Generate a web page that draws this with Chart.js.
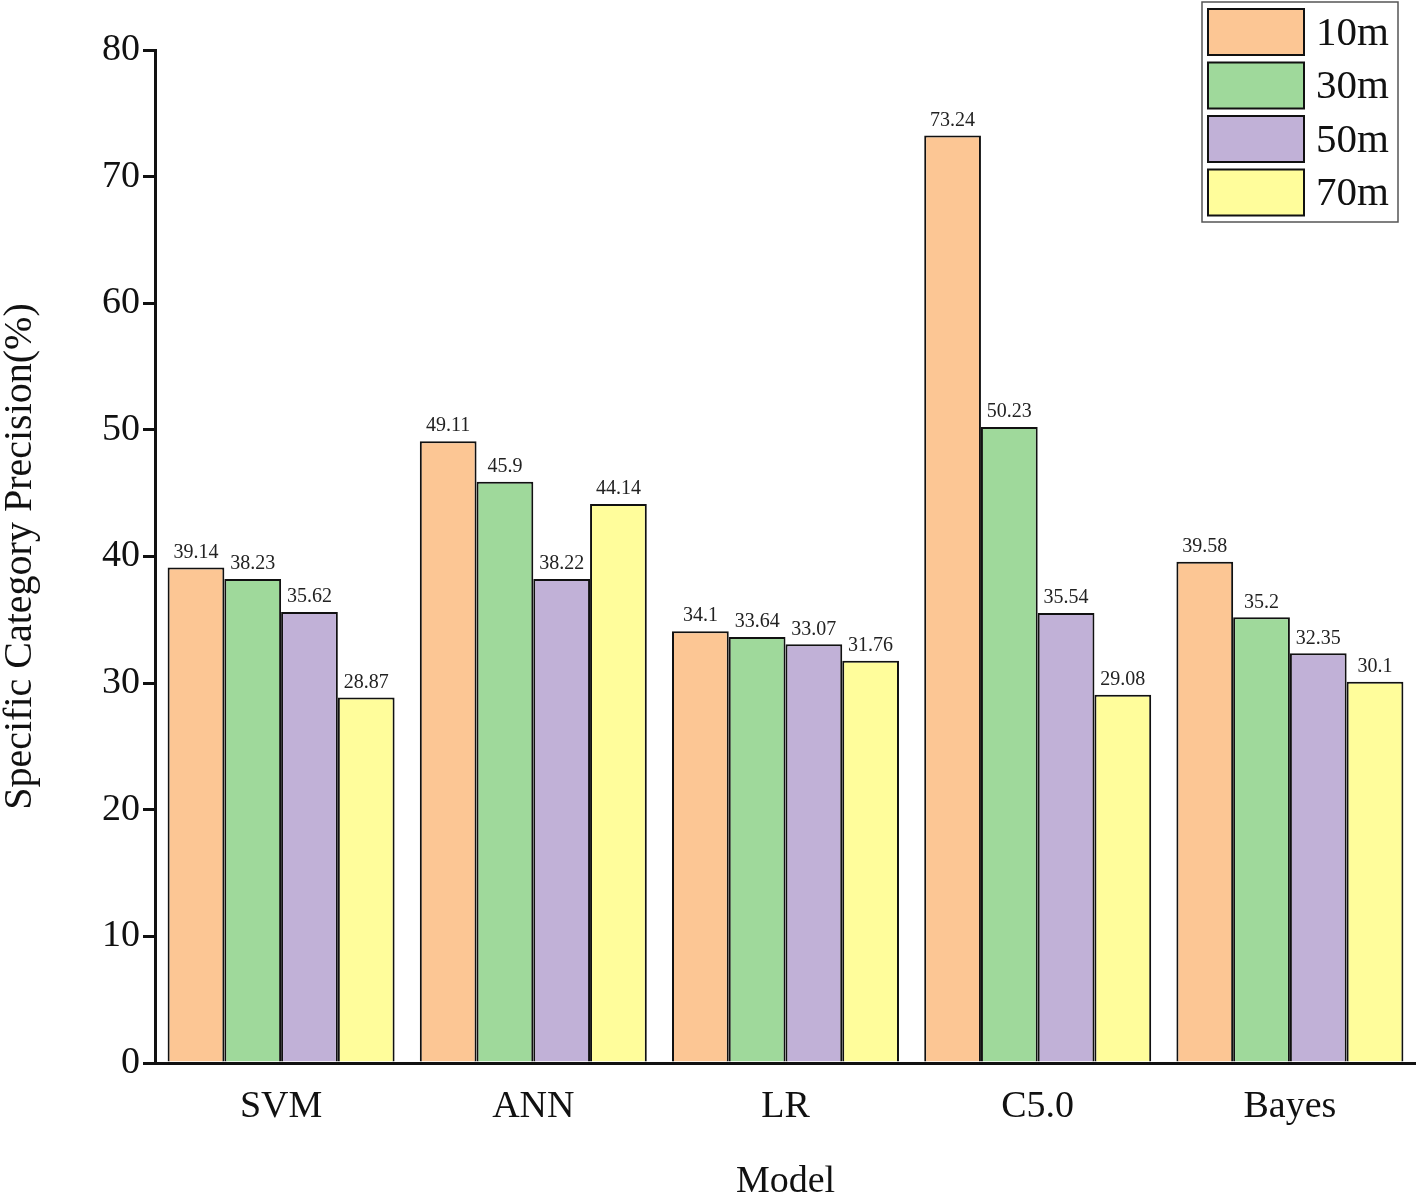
<!DOCTYPE html>
<html>
<head>
<meta charset="utf-8">
<script src="https://cdn.jsdelivr.net/npm/chart.js@4"></script>
<style>
  html, body { margin: 0; padding: 0; background: #fff; }
  #wrap { width: 1416px; height: 1195px; position: relative; }
</style>
</head>
<body>
<div id="wrap"><canvas id="chart"></canvas></div>
<script>
const models = ['SVM', 'ANN', 'LR', 'C5.0', 'Bayes'];
const series10m = [39.14, 49.11, 34.1, 73.24, 39.58];
const series30m = [38.23, 45.9, 33.64, 50.23, 35.2];
const series50m = [35.62, 38.22, 33.07, 35.54, 32.35];
const series70m = [28.87, 44.14, 31.76, 29.08, 30.1];
const seriesNames = ['10m', '30m', '50m', '70m'];
const seriesColors = ['#FCC694', '#9FD99B', '#C1B1D7', '#FFFD9B'];

const serif = '"Liberation Serif", "DejaVu Serif", serif';

// value labels above each bar
const barLabels = {
    id: 'barLabels',
    afterDatasetsDraw(chart) {
        const ctx = chart.ctx;
        ctx.save();
        ctx.font = '20px ' + serif;
        ctx.fillStyle = '#222';
        ctx.textAlign = 'center';
        ctx.textBaseline = 'bottom';
        chart.data.datasets.forEach((ds, i) => {
            chart.getDatasetMeta(i).data.forEach((bar, j) => {
                ctx.fillText(String(ds.data[j]), bar.x, bar.y - 5);
            });
        });
        ctx.restore();
    }
};

// boxed legend in the top right corner
const boxLegend = {
    id: 'boxLegend',
    afterDraw(chart) {
        const ctx = chart.ctx;
        const x0 = 1202, y0 = 2, w = 196, h = 220;
        ctx.save();
        ctx.strokeStyle = '#555';
        ctx.lineWidth = 1.5;
        ctx.strokeRect(x0, y0, w, h);
        ctx.font = '41px ' + serif;
        ctx.textBaseline = 'middle';
        ctx.textAlign = 'left';
        chart.data.datasets.forEach((ds, i) => {
            const top = y0 + 7 + i * 53.5;
            ctx.fillStyle = ds.backgroundColor;
            ctx.fillRect(x0 + 6, top, 96, 46);
            ctx.strokeStyle = '#111';
            ctx.lineWidth = 2;
            ctx.strokeRect(x0 + 6, top, 96, 46);
            ctx.fillStyle = '#111';
            ctx.fillText(ds.label, x0 + 114, top + 25);
        });
        ctx.restore();
    }
};

const allSeries = [series10m, series30m, series50m, series70m];

new Chart(document.getElementById('chart').getContext('2d'), {
    type: 'bar',
    data: {
        labels: models,
        datasets: allSeries.map((vals, i) => ({
            label: seriesNames[i],
            data: vals,
            backgroundColor: seriesColors[i],
            borderColor: '#111',
            borderWidth: 2,
            categoryPercentage: 0.9,
            barPercentage: 1.0
        }))
    },
    options: {
        responsive: true,
        maintainAspectRatio: false,
        animation: false,
        layout: { padding: { top: 50, right: 0, left: 0, bottom: 0 } },
        plugins: {
            legend: { display: false },
            tooltip: { enabled: false }
        },
        scales: {
            x: {
                grid: { display: false },
                border: { display: true, color: '#111', width: 3 },
                ticks: { color: '#111', font: { family: serif, size: 38 }, padding: 13 },
                title: { display: true, text: 'Model', color: '#111', font: { family: serif, size: 38, lineHeight: 1 }, padding: { top: 0, bottom: -6 } },
                afterFit(scale) { scale.height = 132; }
            },
            y: {
                min: 0,
                max: 80,
                grid: { drawOnChartArea: false, drawTicks: true, tickLength: 12, color: '#111', lineWidth: 3 },
                border: { display: true, color: '#111', width: 3 },
                ticks: { stepSize: 10, color: '#111', font: { family: serif, size: 38 }, padding: 3 },
                title: { display: true, text: 'Specific Category Precision(%)', color: '#111', font: { family: serif, size: 40, lineHeight: 1 }, padding: 0 },
                afterFit(scale) { scale.width = 155; }
            }
        }
    },
    plugins: [barLabels, boxLegend]
});
</script>
</body>
</html>
